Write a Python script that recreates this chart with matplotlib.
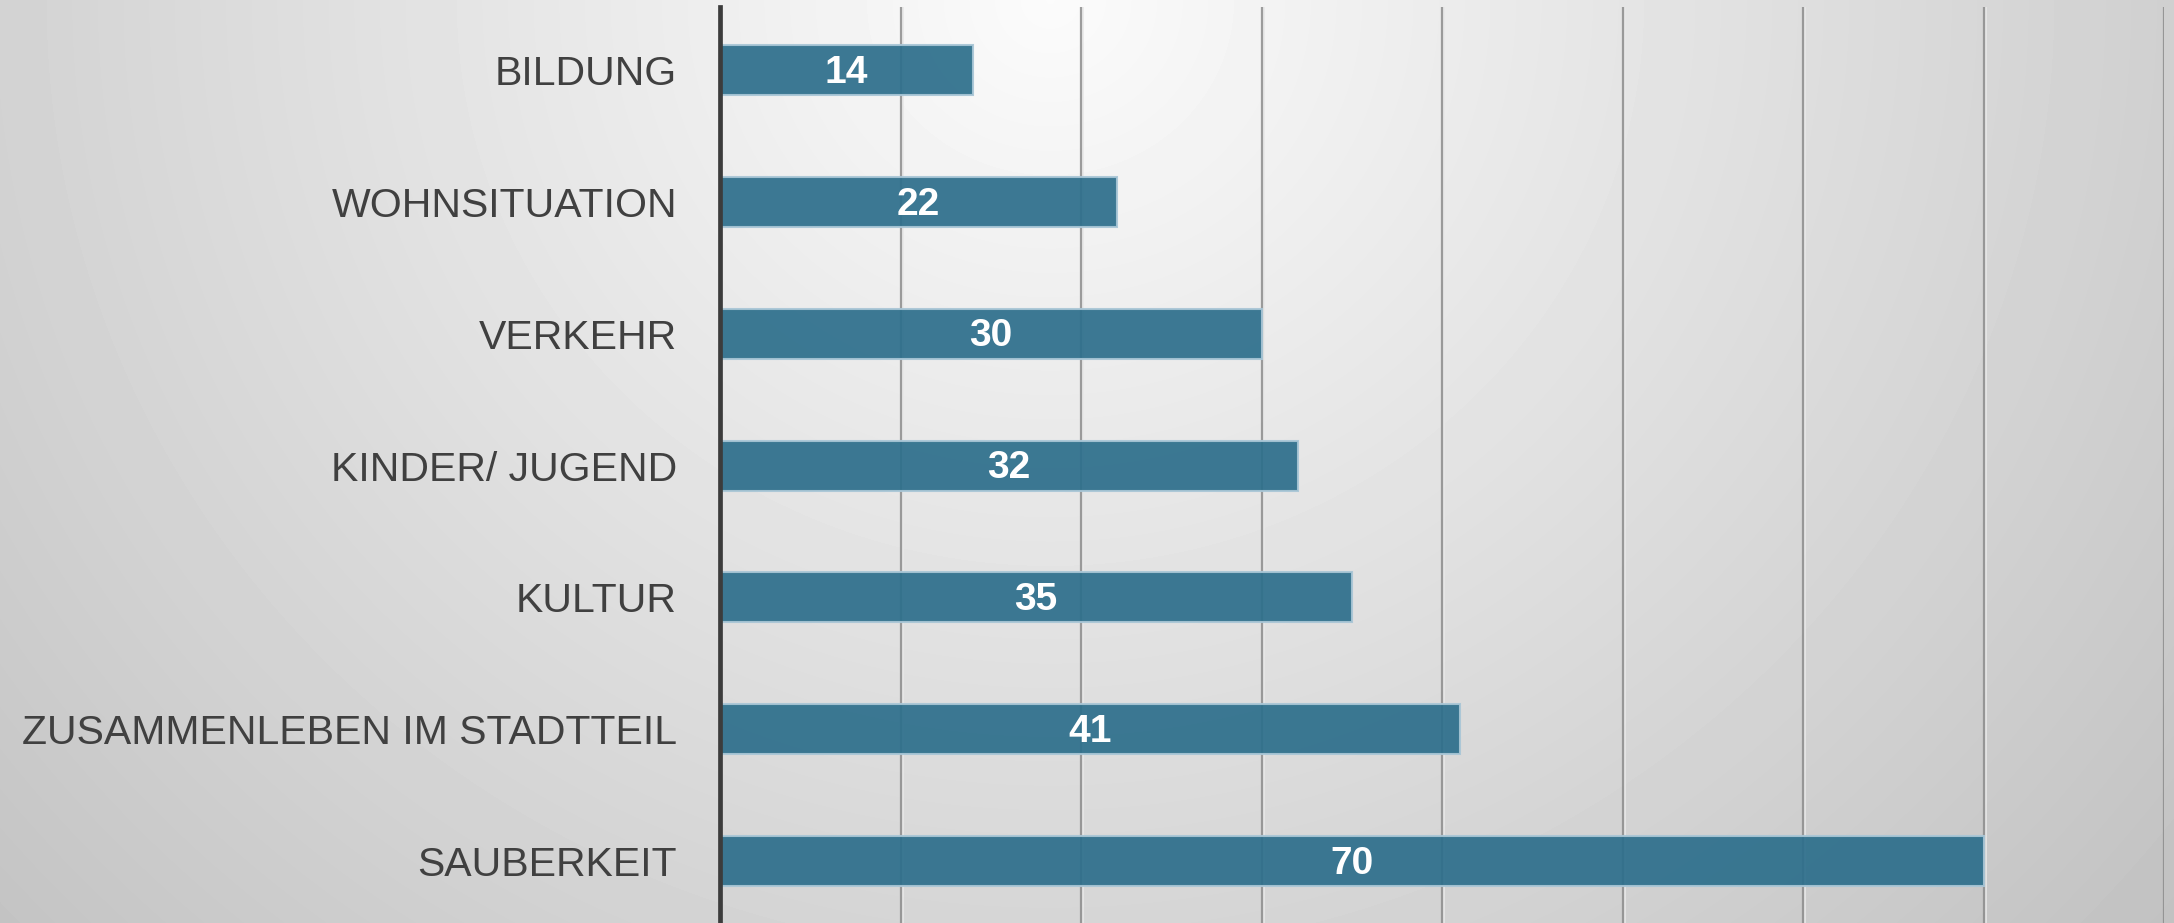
import numpy as np
import matplotlib
matplotlib.use("Agg")
import matplotlib.pyplot as plt

# data, bottom to top
categories = ["SAUBERKEIT", "ZUSAMMENLEBEN IM STADTTEIL", "KULTUR", "KINDER/ JUGEND",
              "VERKEHR", "WOHNSITUATION", "BILDUNG"]
values = [70, 41, 35, 32, 30, 22, 14]
grid_ticks = [10, 20, 30, 40, 50, 60, 70, 80]

W, H = 2174, 923
fig = plt.figure(figsize=(W / 100, H / 100), dpi=100)

# radial grey background, light at top centre
bg = fig.add_axes([0, 0, 1, 1])
yy, xx = np.mgrid[0:H, 0:W]
d = np.sqrt((xx - 1050.0) ** 2 + ((yy - 0.0) * 1.05) ** 2)
shade = np.clip(0.985 - 0.16 * d / 1050.0, 0.74, 1.0)
bg.imshow(shade, cmap="gray", vmin=0, vmax=1, aspect="auto", extent=[0, 1, 0, 1],
          interpolation="bilinear")
bg.set_axis_off()

x0 = 720 / W
x1 = 2164 / W
ax = fig.add_axes([x0, 0, x1 - x0, 1 - 7 / H])
ax.patch.set_alpha(0)
ax.set_xlim(0, 80)
ax.set_ylim(-0.47, 6.48)

for g in grid_ticks:
    ax.axvline(g + 0.12, color="#e8e8e8", lw=1.2, zorder=1)
    ax.axvline(g, color="#8c8c8c", lw=1.6, zorder=1, alpha=0.85)

y = np.arange(len(categories))
ax.barh(y, values, height=0.38, color="#2e6f8c", alpha=0.93,
        edgecolor="#a9c6d6", linewidth=1.5, zorder=2)

for yi, v in zip(y, values):
    ax.text(v / 2, yi - 0.02, str(v), ha="center", va="center", color="white",
            fontsize=28, fontweight="bold", family="Liberation Sans", zorder=3)

ax.set_yticks(y)
ax.set_yticklabels(categories, fontsize=29.5, color="#404040", family="Liberation Sans")
ax.tick_params(axis="y", length=0, pad=31)
ax.set_xticks([])
for s in ["top", "right", "bottom"]:
    ax.spines[s].set_visible(False)
ax.spines["left"].set_color("#3c3c3c")
ax.spines["left"].set_linewidth(3.4)
ax.spines["left"].set_zorder(4)

fig.savefig("out.png", dpi=100)
